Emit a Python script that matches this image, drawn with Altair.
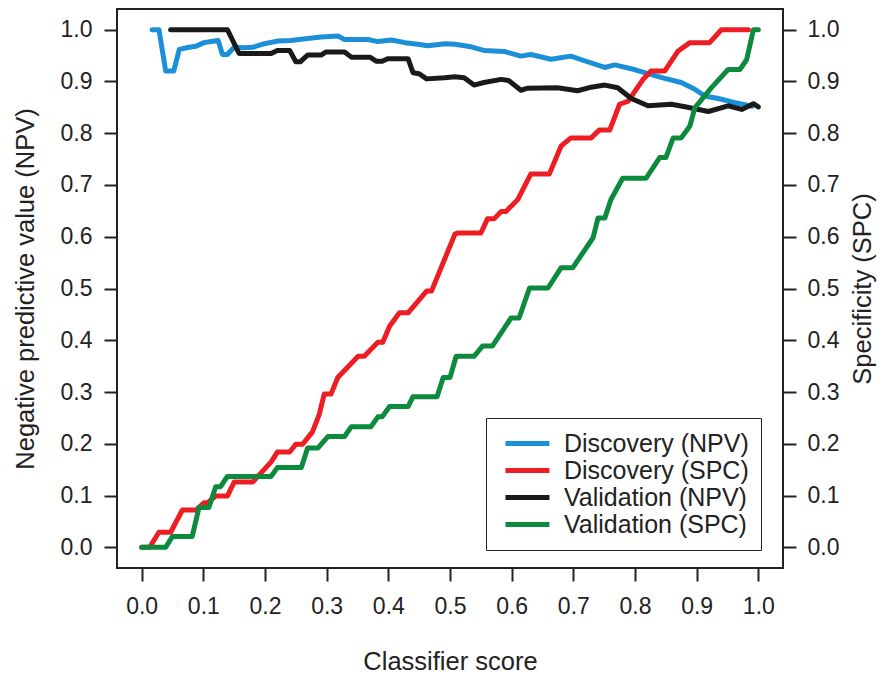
import altair as alt
import pandas as pd

# ---- data ----
disc_npv_x = [0.017, 0.028, 0.039, 0.052, 0.061, 0.077, 0.088, 0.101, 0.118, 0.124, 0.131, 0.139, 0.150,
              0.166, 0.180, 0.199, 0.220, 0.242, 0.269, 0.291, 0.318, 0.329, 0.367, 0.383, 0.405, 0.427,
              0.448, 0.464, 0.492, 0.508, 0.534, 0.555, 0.588, 0.615, 0.631, 0.664, 0.696, 0.718, 0.751,
              0.767, 0.799, 0.821, 0.848, 0.875, 0.897, 0.913, 0.935, 0.962, 0.978, 0.990]
disc_npv_y = [1.0, 1.0, 0.92, 0.92, 0.962, 0.966, 0.968, 0.975, 0.978, 0.979, 0.952, 0.952, 0.966,
              0.965, 0.966, 0.973, 0.978, 0.979, 0.983, 0.986, 0.988, 0.981, 0.981, 0.977, 0.980, 0.975,
              0.972, 0.969, 0.973, 0.972, 0.967, 0.960, 0.958, 0.949, 0.952, 0.943, 0.949, 0.940, 0.927,
              0.932, 0.923, 0.915, 0.906, 0.898, 0.885, 0.872, 0.867, 0.859, 0.855, 0.852]

disc_spc_x = [0.0, 0.013, 0.028, 0.047, 0.066, 0.088, 0.101, 0.107, 0.120, 0.139, 0.150, 0.180, 0.210,
              0.220, 0.240, 0.250, 0.261, 0.277, 0.288, 0.296, 0.307, 0.318, 0.351, 0.361, 0.383, 0.391,
              0.402, 0.418, 0.432, 0.462, 0.470, 0.508, 0.512, 0.550, 0.561, 0.572, 0.583, 0.591, 0.610,
              0.631, 0.661, 0.680, 0.696, 0.729, 0.742, 0.759, 0.775, 0.789, 0.813, 0.826, 0.848, 0.870,
              0.889, 0.921, 0.940, 0.984]
disc_spc_y = [0.0, 0.0, 0.029, 0.029, 0.072, 0.072, 0.086, 0.086, 0.099, 0.099, 0.126, 0.126, 0.165,
              0.184, 0.184, 0.199, 0.199, 0.223, 0.257, 0.296, 0.296, 0.328, 0.369, 0.369, 0.396, 0.396,
              0.427, 0.453, 0.453, 0.495, 0.495, 0.605, 0.607, 0.607, 0.635, 0.635, 0.649, 0.649, 0.672,
              0.721, 0.721, 0.775, 0.791, 0.791, 0.806, 0.806, 0.856, 0.862, 0.904, 0.920, 0.920, 0.959,
              0.975, 0.975, 1.0, 1.0]

val_npv_x = [0.047, 0.139, 0.158, 0.210, 0.220, 0.240, 0.250, 0.257, 0.269, 0.291, 0.299, 0.329, 0.340,
             0.370, 0.381, 0.390, 0.399, 0.432, 0.440, 0.450, 0.462, 0.491, 0.508, 0.523, 0.539, 0.555,
             0.583, 0.595, 0.615, 0.626, 0.674, 0.707, 0.729, 0.751, 0.772, 0.794, 0.821, 0.859, 0.881,
             0.919, 0.951, 0.973, 0.992, 1.0]
val_npv_y = [1.0, 1.0, 0.954, 0.954, 0.960, 0.960, 0.938, 0.938, 0.951, 0.951, 0.957, 0.957, 0.947,
             0.947, 0.939, 0.939, 0.944, 0.944, 0.917, 0.915, 0.905, 0.907, 0.909, 0.907, 0.893, 0.898,
             0.904, 0.902, 0.883, 0.887, 0.888, 0.882, 0.889, 0.893, 0.888, 0.867, 0.853, 0.856, 0.851,
             0.842, 0.853, 0.846, 0.857, 0.851]

val_spc_x = [0.0, 0.039, 0.050, 0.082, 0.093, 0.109, 0.120, 0.128, 0.139, 0.210, 0.220, 0.259, 0.269,
             0.286, 0.302, 0.329, 0.340, 0.372, 0.383, 0.390, 0.402, 0.432, 0.440, 0.479, 0.489, 0.500,
             0.510, 0.539, 0.553, 0.569, 0.599, 0.612, 0.629, 0.659, 0.680, 0.699, 0.732, 0.740, 0.751,
             0.761, 0.780, 0.818, 0.840, 0.850, 0.862, 0.875, 0.889, 0.897, 0.924, 0.951, 0.970, 0.981,
             0.992, 1.0]
val_spc_y = [0.0, 0.0, 0.021, 0.021, 0.077, 0.077, 0.117, 0.117, 0.137, 0.137, 0.154, 0.154, 0.192,
             0.192, 0.214, 0.214, 0.233, 0.233, 0.252, 0.252, 0.272, 0.272, 0.291, 0.291, 0.328, 0.328,
             0.369, 0.369, 0.389, 0.389, 0.443, 0.443, 0.501, 0.501, 0.540, 0.540, 0.598, 0.636, 0.636,
             0.672, 0.713, 0.713, 0.753, 0.753, 0.791, 0.791, 0.814, 0.849, 0.888, 0.923, 0.923, 0.942,
             1.0, 1.0]

series_names = ["Discovery (NPV)", "Discovery (SPC)", "Validation (NPV)", "Validation (SPC)"]
series_colors = ["#1C8FD9", "#EE1D24", "#1A1A1A", "#0C8A3E"]
tick_values = [0.0, 0.1, 0.2, 0.3, 0.4, 0.5, 0.6, 0.7, 0.8, 0.9, 1.0]

FONT = "Liberation Sans"
TXT = "#222222"


def frame(xs, ys, name):
    return pd.DataFrame({"score": xs, "value": ys, "series": name, "idx": list(range(len(xs)))})


dfs = [
    frame(disc_npv_x, disc_npv_y, series_names[0]),
    frame(disc_spc_x, disc_spc_y, series_names[1]),
    frame(val_npv_x, val_npv_y, series_names[2]),
    frame(val_spc_x, val_spc_y, series_names[3]),
]

xdom = [-0.04, 1.04]
ydom = [-0.04, 1.04]

color = alt.Color(
    "series:N",
    scale=alt.Scale(domain=series_names, range=series_colors),
    legend=alt.Legend(
        title=None,
        orient="none",
        legendX=369,
        legendY=409,
        symbolType="M-0.55,0H3.45",
        symbolSize=484,
        symbolStrokeWidth=5,
        labelFontSize=25,
        labelFont=FONT,
        labelColor=TXT,
        labelOffset=39,
        rowPadding=0,
        padding=12,
        strokeColor=TXT,
        fillColor="white",
        labelLimit=400,
    ),
)

x_enc = alt.X(
    "score:Q",
    scale=alt.Scale(domain=xdom, nice=False, zero=False),
    axis=alt.Axis(
        values=tick_values, format=".1f", title="Classifier score",
        labelPadding=14, titleY=93, titleBaseline="middle",
    ),
)

left_axis = alt.Axis(
    values=tick_values, format=".1f", title="Negative predictive value (NPV)",
    orient="left", labelPadding=12, titleX=-92, titleBaseline="middle", titleAngle=270,
)
right_axis = alt.Axis(
    values=tick_values, format=".1f", title="Specificity (SPC)",
    orient="right", labelPadding=11, titleX=79, titleBaseline="middle", titleAngle=270,
)

layers = []
for i, df in enumerate(dfs):
    if i == 0:
        ax = left_axis
    elif i == 1:
        ax = right_axis
    else:
        ax = None
    y_kwargs = dict(scale=alt.Scale(domain=ydom, nice=False, zero=False))
    if ax is None:
        y_kwargs["axis"] = None
    else:
        y_kwargs["axis"] = ax
    layer = alt.Chart(df).mark_line(
        strokeWidth=5, strokeCap="round", strokeJoin="round"
    ).encode(
        x=x_enc,
        y=alt.Y("value:Q", **y_kwargs),
        color=color,
        order="idx:Q",
    )
    layers.append(layer)

chart = alt.layer(*layers).resolve_scale(y="independent").properties(
    width=666,
    height=559,
    autosize=alt.AutoSizeParams(type="none"),
    padding={"left": 109, "top": 1, "right": 97, "bottom": 106},
    background="white",
).configure_view(
    stroke=TXT, strokeWidth=2
).configure_axis(
    grid=False,
    domain=False,
    ticks=True,
    tickSize=13,
    tickWidth=2,
    tickColor=TXT,
    labelFont=FONT,
    labelFontSize=23,
    labelColor=TXT,
    titleFont=FONT,
    titleFontSize=25.5,
    titleFontWeight="normal",
    titleColor=TXT,
)

chart.save("out.html", embed_options={"renderer": "svg", "actions": False})
